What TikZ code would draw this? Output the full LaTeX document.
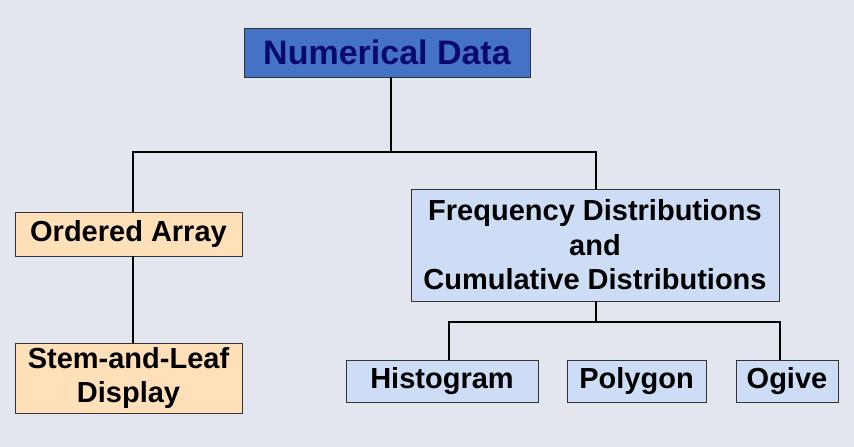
\documentclass[tikz,border=0pt]{standalone}
\usepackage{fontspec}
\setmainfont{Liberation Sans}
\usetikzlibrary{positioning,calc}
\definecolor{bgcol}{HTML}{E3E6EE}
\definecolor{topblue}{HTML}{4472C4}
\definecolor{navy}{HTML}{0A0A6E}
\definecolor{peach}{HTML}{FFE0B8}
\definecolor{paleblue}{HTML}{CCDDF5}
\tikzset{box/.style={draw=black!80, thin, inner sep=0pt, align=center, font=\fontsize{29}{34.5}\selectfont\bfseries}}
\tikzset{peachbox/.style={box, fill=peach}}
\tikzset{bluebox/.style={box, fill=paleblue}}
\tikzset{link/.style={draw, line width=1.2pt}}

\begin{document}
\begin{tikzpicture}[x=1pt,y=-1pt]
			\fill[bgcol] (0,0) rectangle (854,447);
			\useasboundingbox (0,0) rectangle (854,447);
			
			\node[box, fill=topblue, text=navy, minimum width=286, minimum height=49, font=\fontsize{34}{40}\selectfont\bfseries] (num) at (387,52.5) {Numerical Data};
			\node[peachbox, minimum width=227, minimum height=44] (arr) at (128.5,234) {Ordered Array};
			\node[peachbox, minimum width=227, minimum height=70] (stem) at (128.5,378) {Stem-and-Leaf\\Display};
			\node[bluebox, minimum width=368, minimum height=112] (freq) at (595,245) {Frequency Distributions\\and\\Cumulative Distributions};
			\node[bluebox, minimum width=192, minimum height=42] (hist) at (442,381) {Histogram};
			\node[bluebox, minimum width=139, minimum height=42] (poly) at (636.5,381) {Polygon};
			\node[bluebox, minimum width=102, minimum height=42] (ogive) at (787,381) {Ogive};
			
			\coordinate (split) at (391,152);
			\coordinate (fsplit) at (596,322);
			
			\draw[link] (num.south -| split) -- (split);
			\draw[link] (split) -| (arr.north -| 133,0);
			\draw[link] (split) -| (freq.north -| 596,0);
			\draw[link] (arr.south -| 133,0) -- (stem.north -| 133,0);
			\draw[link] (freq.south -| fsplit) -- (fsplit);
			\draw[link] (fsplit) -| (hist.north -| 449,0);
			\draw[link] (fsplit) -| (ogive.north -| 780,0);
			\draw[link] (poly.north -| 640,0) -- (poly.north -| 640,322);
		\end{tikzpicture}
\end{document}
